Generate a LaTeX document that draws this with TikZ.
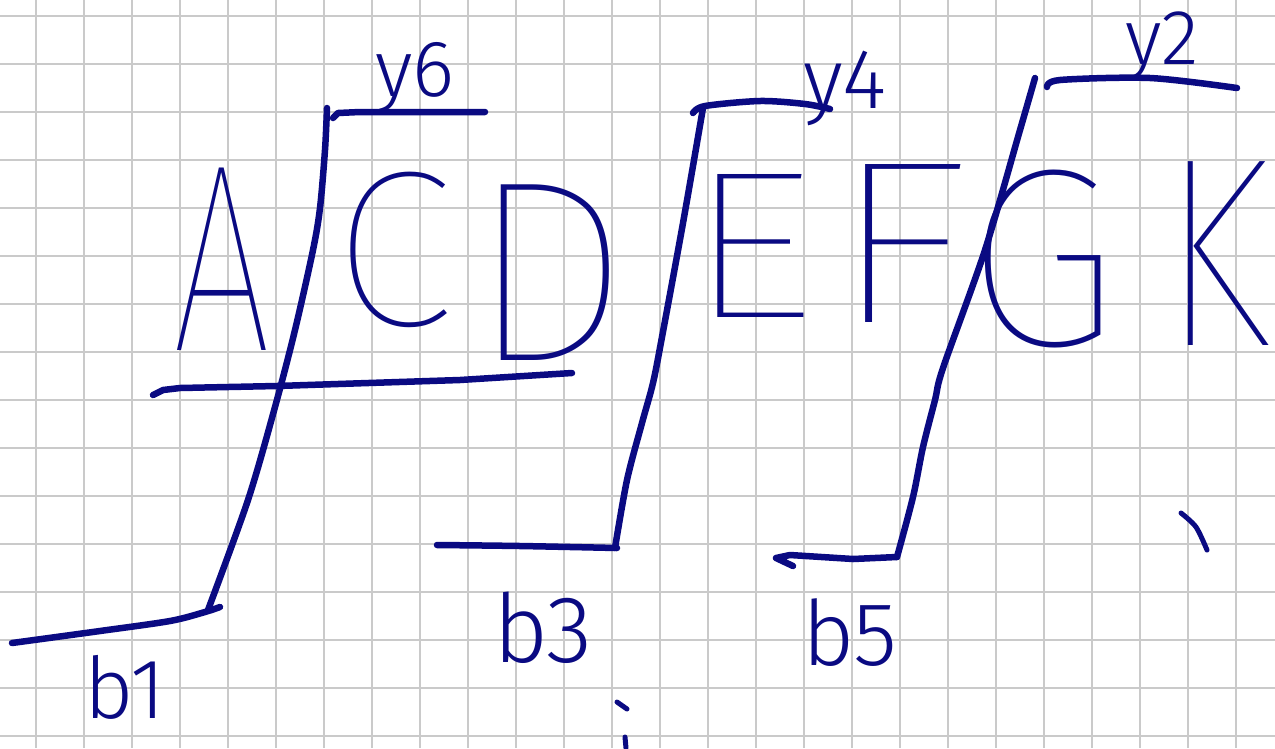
\documentclass[tikz,border=0pt]{standalone}
\usepackage{graphicx}
\usepackage{fontspec}
\newfontfamily\handfont{Fira Sans}[UprightFont={* Thin}]
\newfontfamily\labfont{Fira Sans}[UprightFont={* Light}]
\definecolor{ink}{RGB}{10,10,130}
\definecolor{gridc}{RGB}{202,202,202}
\newcommand{\hw}[1]{\handfont\fontsize{#1}{#1}\selectfont}
\newcommand{\lw}[1]{\labfont\fontsize{#1}{#1}\selectfont}
\tikzset{
  pen/.style={draw=ink, line width=6.5pt, line cap=round, line join=round},
  thinpen/.style={draw=ink, line width=5pt, line cap=round, line join=round},
  hand/.style={text=ink, inner sep=0pt, anchor=base},
  gridline/.style={draw=gridc, line width=1.6pt}
}
\begin{document}
\begin{tikzpicture}[x=1pt,y=-1pt]
\useasboundingbox (0,0) rectangle (1275,748);
\fill[white] (0,0) rectangle (1275,748);
% grid paper
\foreach \i in {0,...,25} \draw[gridline] ({36+48*\i},0) -- ({36+48*\i},748);
\foreach \j in {0,...,15} \draw[gridline] (0,{16+48*\j}) -- (1275,{16+48*\j});

% first step
\draw[pen] plot[smooth] coordinates {(12,643) (100,631) (170,621) (205,612) (220,607)};
\draw[pen] plot[smooth] coordinates {(208,610) (248,500) (275,407) (295,330) (313,250) (320,208) (325,150) (327,108)};
\draw[pen] (333,118) -- (338,113) -- (360,112) -- (485,112);

% middle line under A C D
\draw[pen] (153,395) -- (163,390) -- (180,388) -- (277,386) -- (460,380) -- (572,373);

% second step
\draw[pen] plot[smooth] coordinates {(437,545) (520,546) (617,548)};
\draw[pen] plot[smooth] coordinates {(615,548) (627,480) (642,423) (653,383) (662,337) (683,223) (703,108)};
\draw[pen] plot[smooth] coordinates {(693,113) (705,106) (760,101) (805,104) (830,109)};

% third step
\draw[pen] (793,566) -- (776,558) -- (790,555) -- (853,559) -- (897,557);
\draw[pen] plot[smooth] coordinates {(897,557) (913,497) (923,447) (935,400) (943,368) (985,250) (1020,130) (1035,78)};
\draw[pen] plot[smooth] coordinates {(1047,87) (1060,80) (1150,78) (1237,88)};

% stray marks
\draw[thinpen] plot[smooth] coordinates {(1181,513) (1196,527) (1207,550)};
\draw[thinpen] (617,702) -- (627,709);
\draw[thinpen] (625,737) -- (626,748);

% letters
\node[hand, font=\hw{268}] (la) at (222,350) {\scalebox{0.66}[1]{A}};
\node[hand, font=\hw{222}] (lc) at (393,325) {C};
\node[hand, font=\hw{258}] (ld) at (549,360) {D};
\node[hand, font=\hw{210}] (le) at (750,317) {\scalebox{1.25}[1]{E}};
\node[hand, font=\hw{232}] (lf) at (900,322) {\scalebox{1.3}[1]{F}};
\node[hand, font=\hw{254}] (lg) at (1042,345) {G};
\node[hand, font=\hw{270}] (lk) at (1216,345) {\scalebox{0.78}[1]{K}};

% labels
\node[hand, font=\lw{80}] (y6) at (415,96) {y6};
\node[hand, font=\lw{85}] (y4) at (845,108) {y4};
\node[hand, font=\lw{78}] (y2) at (1162,64) {y2};
\node[hand, font=\lw{85}] (b1) at (125,718) {b1};
\node[hand, font=\lw{95}] (b3) at (543,662) {b3};
\node[hand, font=\lw{90}] (b5) at (850,665) {b5};
\end{tikzpicture}
\end{document}
